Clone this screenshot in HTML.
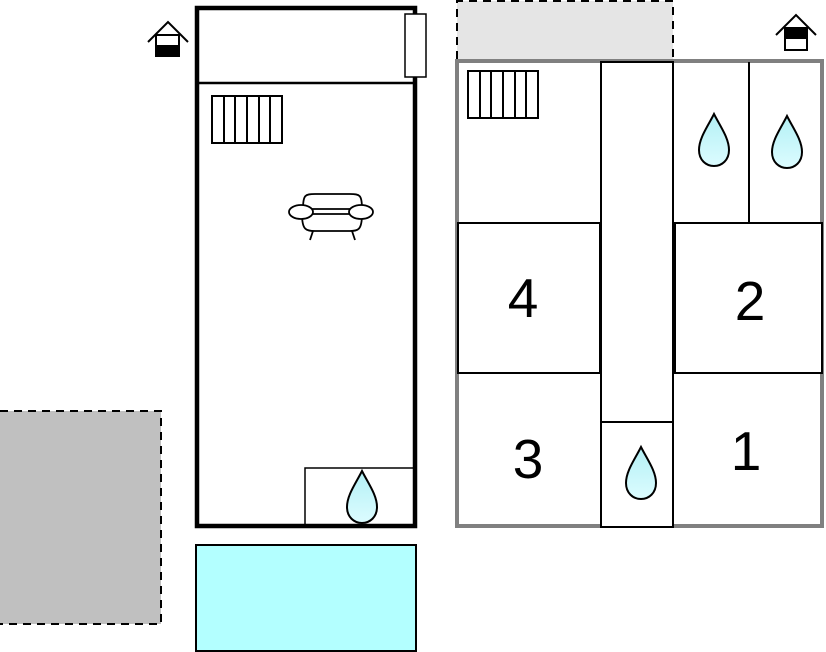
<!DOCTYPE html>
<html><head><meta charset="utf-8"><style>html,body{margin:0;padding:0;background:#fff}svg{display:block}</style></head>
<body>
<svg width="826" height="652" viewBox="0 0 826 652" xmlns="http://www.w3.org/2000/svg">
<defs>
<linearGradient id="dg" x1="0" y1="0" x2="0" y2="1"><stop offset="0" stop-color="#b3f0f5"/><stop offset="1" stop-color="#dcfcff"/></linearGradient>
<g id="drop"><path d="M0,0 C-6,12 -15,24 -15,36 C-15,46 -8,52 0,52 C8,52 15,46 15,36 C15,24 6,12 0,0 Z" fill="url(#dg)" stroke="#000" stroke-width="2"/></g>
</defs>
<rect x="0" y="411" width="161" height="213" fill="#c0c0c0"/>
<path d="M0,411 H161 V624 H0" fill="none" stroke="#000" stroke-width="2" stroke-dasharray="8,6"/>
<rect x="457" y="1" width="216" height="58" fill="#e5e5e5"/>
<path d="M457,59 V1 H673 V59" fill="none" stroke="#000" stroke-width="2" stroke-dasharray="8,6"/>
<rect x="197" y="8" width="218" height="518" fill="#fff" stroke="#000" stroke-width="4.5"/>
<line x1="197" y1="83" x2="414" y2="83" stroke="#000" stroke-width="2.5"/>
<rect x="405" y="14" width="21" height="63" fill="#fff" stroke="#000" stroke-width="1.5"/>
<g stroke="#000" stroke-width="2" fill="none">
<rect x="212" y="96" width="70" height="47"/>
<line x1="224" y1="96" x2="224" y2="143"/><line x1="235" y1="96" x2="235" y2="143"/><line x1="247" y1="96" x2="247" y2="143"/><line x1="259" y1="96" x2="259" y2="143"/><line x1="270" y1="96" x2="270" y2="143"/>
</g>
<g stroke="#000" stroke-width="1.8" fill="#fff">
<path d="M303,209 C303,195 305,194 315,194 H350 C360,194 362,195 362,209 Z"/>
<path d="M302,214 H362 C362,230 358,231 350,231 H315 C306,231 302,230 302,214 Z"/>
<line x1="313" y1="231" x2="310" y2="240"/><line x1="352" y1="231" x2="355" y2="240"/>
<ellipse cx="301" cy="212" rx="12" ry="7"/><ellipse cx="361" cy="212" rx="12" ry="7"/>
</g>
<rect x="305" y="468" width="109" height="58" fill="none" stroke="#000" stroke-width="1.5"/>
<use href="#drop" x="362" y="471"/>
<rect x="196" y="545" width="220" height="106" fill="#b3ffff" stroke="#000" stroke-width="2"/>
<g stroke="#000" stroke-width="2" fill="#fff">
<polyline points="148,42 168,22 188,42" fill="none"/>
<rect x="156" y="35" width="23" height="21"/>
<rect x="156" y="46" width="23" height="10" fill="#000"/>
</g>
<g stroke="#000" stroke-width="2" fill="#fff">
<polyline points="776,35 796,15 816,35" fill="none"/>
<rect x="785" y="28" width="22" height="22"/>
<rect x="785" y="28" width="22" height="10" fill="#000"/>
</g>
<rect x="457" y="61" width="365" height="465" fill="#fff" stroke="#808080" stroke-width="4"/>
<rect x="601" y="62" width="72" height="465" fill="#fff" stroke="#000" stroke-width="2"/>
<line x1="601" y1="422" x2="673" y2="422" stroke="#000" stroke-width="2"/>
<line x1="749" y1="62" x2="749" y2="223" stroke="#000" stroke-width="2"/>
<rect x="458" y="223" width="142" height="150" fill="#fff" stroke="#000" stroke-width="2"/>
<rect x="675" y="223" width="147" height="150" fill="#fff" stroke="#000" stroke-width="2"/>
<g stroke="#000" stroke-width="2" fill="none">
<rect x="468" y="71" width="70" height="47"/>
<line x1="480" y1="71" x2="480" y2="118"/><line x1="491" y1="71" x2="491" y2="118"/><line x1="503" y1="71" x2="503" y2="118"/><line x1="515" y1="71" x2="515" y2="118"/><line x1="526" y1="71" x2="526" y2="118"/>
</g>
<use href="#drop" x="714" y="114"/>
<use href="#drop" x="787" y="116"/>
<use href="#drop" x="641" y="447"/>
<g font-family="Liberation Sans, sans-serif" font-size="55" text-anchor="middle" fill="#000">
<text x="523" y="317">4</text>
<text x="750" y="320">2</text>
<text x="528" y="478">3</text>
<text x="746" y="470">1</text>
</g>
</svg>
</body></html>
